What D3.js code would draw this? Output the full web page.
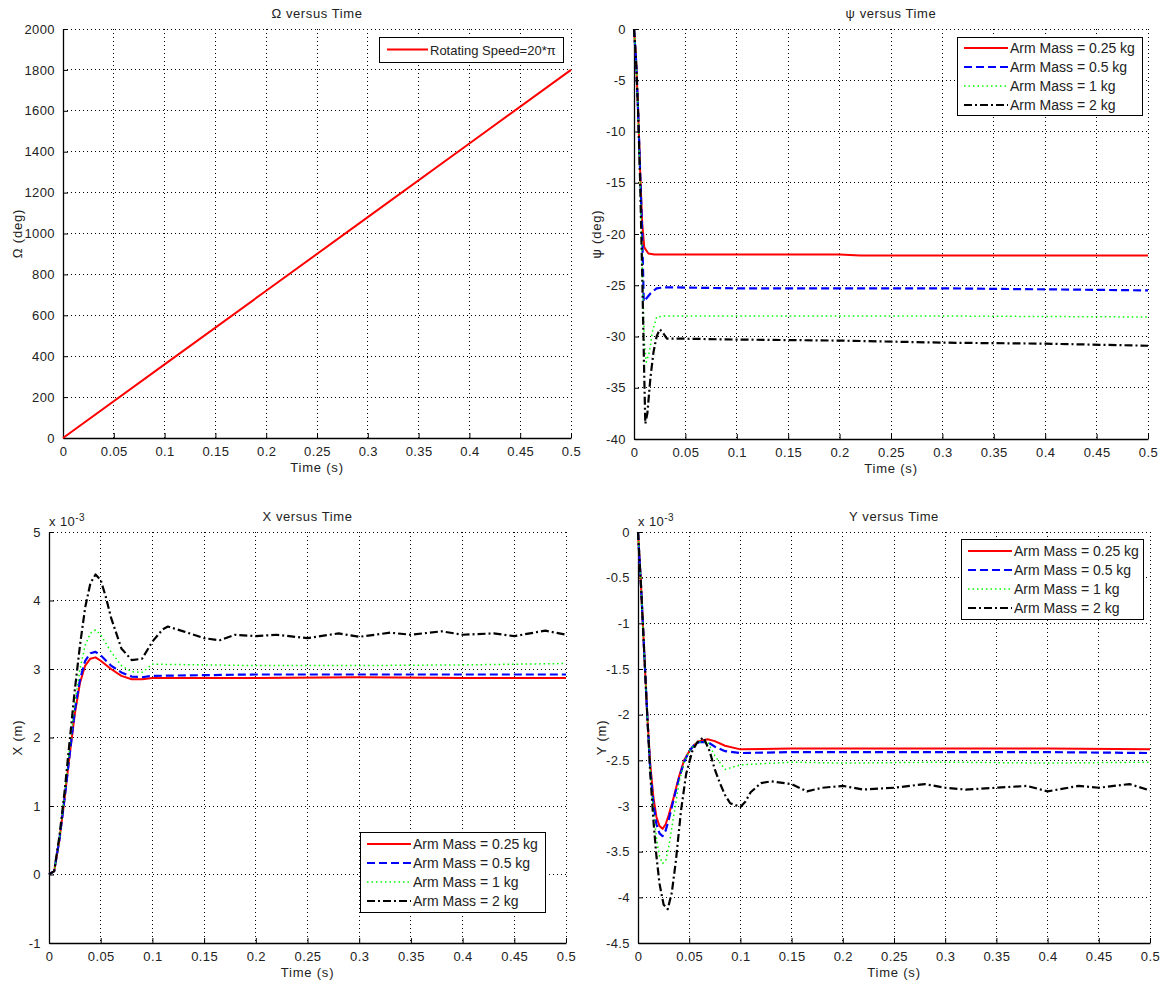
<!DOCTYPE html>
<html>
<head>
<meta charset="utf-8">
<script src="https://cdn.jsdelivr.net/npm/d3@7"></script>
<style>
  body { margin: 0; background: #fff; }
  svg { display: block; font-family: "Liberation Sans", Arial, sans-serif; }
</style>
</head>
<body>
<svg id="chart" width="1163" height="983"></svg>
<script>
// ---------------- DATA ----------------
// Panel 1: Omega versus Time
const omegaTime = [0, 0.1, 0.2, 0.3, 0.4, 0.5];
const omegaValues = [0, 360, 720, 1080, 1440, 1800];
const omegaTicksY = [0, 200, 400, 600, 800, 1000, 1200, 1400, 1600, 1800, 2000];

const timeTicks = [0, 0.05, 0.1, 0.15, 0.2, 0.25, 0.3, 0.35, 0.4, 0.45, 0.5];
const seriesNames = ["Arm Mass = 0.25 kg", "Arm Mass = 0.5 kg", "Arm Mass = 1 kg", "Arm Mass = 2 kg"];

// Panel 2: psi versus Time (deg)
const psiTime025 = [0, 0.002, 0.004, 0.006, 0.008, 0.010, 0.014, 0.02, 0.05, 0.1, 0.2, 0.22, 0.3, 0.4, 0.5];
const psiValues025 = [0, -3, -8, -14, -19, -21.3, -21.9, -22.0, -22.0, -22.0, -22.0, -22.1, -22.1, -22.1, -22.1];
const psiTime05 = [0, 0.002, 0.004, 0.006, 0.008, 0.0095, 0.012, 0.016, 0.022, 0.03, 0.1, 0.2, 0.3, 0.4, 0.5];
const psiValues05 = [0, -3, -8, -14, -20, -26.6, -26.3, -25.8, -25.3, -25.2, -25.3, -25.3, -25.3, -25.4, -25.5];
const psiTime1 = [0, 0.002, 0.004, 0.006, 0.008, 0.010, 0.012, 0.015, 0.018, 0.022, 0.03, 0.1, 0.3, 0.5];
const psiValues1 = [0, -3, -8, -15, -23, -30.5, -32.5, -31.5, -29.5, -28.1, -28.0, -28.0, -28.0, -28.1];
const psiTime2 = [0, 0.002, 0.004, 0.006, 0.008, 0.010, 0.011, 0.013, 0.016, 0.019, 0.022, 0.025, 0.028, 0.032, 0.04, 0.1, 0.2, 0.3, 0.4, 0.5];
const psiValues2 = [0, -3, -8, -15, -24, -34, -38.5, -37.5, -34, -31.5, -30, -29.3, -29.6, -30.2, -30.2, -30.3, -30.4, -30.6, -30.7, -30.9];
const psiTicksY = [-40, -35, -30, -25, -20, -15, -10, -5, 0];

// Panel 3: X versus Time (x 10^-3 m)
const xTime = [0, 0.005, 0.01, 0.015, 0.02, 0.025, 0.03, 0.035, 0.04, 0.045, 0.05, 0.06, 0.07, 0.08, 0.09, 0.1, 0.2, 0.3, 0.4, 0.5];
const xValues025 = [0, 0.05, 0.5, 1.1, 1.75, 2.35, 2.8, 3.05, 3.15, 3.17, 3.12, 3.0, 2.9, 2.85, 2.85, 2.87, 2.87, 2.88, 2.87, 2.87];
const xValues05 = [0, 0.05, 0.5, 1.1, 1.75, 2.4, 2.85, 3.12, 3.23, 3.25, 3.2, 3.05, 2.95, 2.89, 2.88, 2.9, 2.92, 2.92, 2.92, 2.92];
const xValues1 = [0, 0.05, 0.5, 1.15, 1.85, 2.5, 3.0, 3.35, 3.52, 3.57, 3.5, 3.25, 3.05, 2.96, 2.95, 3.07, 3.05, 3.05, 3.06, 3.08];
const xTime2 = [0, 0.005, 0.01, 0.015, 0.02, 0.025, 0.03, 0.035, 0.04, 0.045, 0.05, 0.055, 0.06, 0.07, 0.08, 0.09, 0.1, 0.11, 0.115, 0.13, 0.15, 0.165, 0.18, 0.2, 0.22, 0.25, 0.28, 0.3, 0.33, 0.35, 0.38, 0.4, 0.43, 0.45, 0.48, 0.5];
const xValues2 = [0, 0.05, 0.55, 1.2, 1.95, 2.7, 3.35, 3.9, 4.25, 4.38, 4.3, 4.05, 3.75, 3.3, 3.13, 3.15, 3.4, 3.58, 3.62, 3.55, 3.45, 3.42, 3.5, 3.48, 3.5, 3.45, 3.52, 3.47, 3.53, 3.5, 3.55, 3.5, 3.52, 3.48, 3.56, 3.5];
const xTicksY = [-1, 0, 1, 2, 3, 4, 5];

// Panel 4: Y versus Time (x 10^-3 m)
const yTime = [0, 0.003, 0.006, 0.009, 0.012, 0.015, 0.018, 0.021, 0.024, 0.027, 0.03, 0.035, 0.04, 0.045, 0.05, 0.055, 0.06, 0.068, 0.075, 0.085, 0.1, 0.15, 0.2, 0.3, 0.4, 0.5];
const yValues025 = [0, -0.6, -1.3, -2.0, -2.55, -2.9, -3.12, -3.22, -3.25, -3.2, -3.1, -2.9, -2.68, -2.5, -2.4, -2.33, -2.29, -2.27, -2.29, -2.34, -2.38, -2.37, -2.37, -2.37, -2.37, -2.38];
const yValues05 = [0, -0.6, -1.3, -2.0, -2.6, -2.97, -3.2, -3.3, -3.33, -3.27, -3.15, -2.92, -2.7, -2.52, -2.4, -2.33, -2.3, -2.3, -2.35, -2.4, -2.42, -2.41, -2.41, -2.41, -2.41, -2.42];
const yValues1 = [0, -0.6, -1.3, -2.0, -2.6, -3.05, -3.35, -3.55, -3.63, -3.6, -3.45, -3.1, -2.75, -2.52, -2.4, -2.33, -2.3, -2.3, -2.45, -2.6, -2.55, -2.52, -2.53, -2.52, -2.53, -2.52];
const yTime2 = [0, 0.003, 0.006, 0.009, 0.012, 0.015, 0.018, 0.021, 0.025, 0.029, 0.033, 0.037, 0.042, 0.047, 0.053, 0.058, 0.064, 0.07, 0.075, 0.08, 0.085, 0.09, 0.1, 0.105, 0.11, 0.12, 0.13, 0.15, 0.165, 0.18, 0.2, 0.22, 0.25, 0.28, 0.3, 0.32, 0.35, 0.38, 0.4, 0.43, 0.45, 0.48, 0.5];
const yValues2 = [0, -0.6, -1.3, -2.0, -2.65, -3.15, -3.55, -3.85, -4.08, -4.13, -3.95, -3.6, -3.05, -2.65, -2.4, -2.3, -2.25, -2.4, -2.6, -2.75, -2.88, -2.97, -3.01, -2.95, -2.85, -2.75, -2.73, -2.76, -2.84, -2.8, -2.78, -2.82, -2.8, -2.76, -2.8, -2.82, -2.8, -2.78, -2.84, -2.78, -2.8, -2.76, -2.83];
const yTicksY = [-4.5, -4, -3.5, -3, -2.5, -2, -1.5, -1, -0.5, 0];

// ---------------- STYLES ----------------
const styles = [
  { color: "#ff0000", width: 2, dash: null },
  { color: "#0000ff", width: 2.2, dash: "8,4" },
  { color: "#00ff00", width: 1.5, dash: "1.5,3" },
  { color: "#000000", width: 2.2, dash: "8,3,2,3" }
];

const FONT = "'Liberation Sans', Arial, sans-serif";
const svg = d3.select("#chart");

function panel(cfg) {
  const x = d3.scaleLinear().domain([0, 0.5]).range([cfg.left, cfg.right]);
  const y = d3.scaleLinear().domain(cfg.yDomain).range([cfg.bottom, cfg.top]);
  const g = svg.append("g");

  // grid
  g.append("g").selectAll("line").data(timeTicks.filter(d => d !== 0)).join("line")
    .attr("x1", d => x(d)).attr("x2", d => x(d))
    .attr("y1", cfg.top).attr("y2", cfg.bottom)
    .attr("stroke", "#000").attr("stroke-width", 1).attr("stroke-dasharray", "1,3")
    .attr("shape-rendering", "crispEdges");
  g.append("g").selectAll("line").data(cfg.yTicks.filter(d => d !== cfg.yDomain[0])).join("line")
    .attr("y1", d => y(d)).attr("y2", d => y(d))
    .attr("x1", cfg.left).attr("x2", cfg.right)
    .attr("stroke", "#000").attr("stroke-width", 1).attr("stroke-dasharray", "1,3")
    .attr("shape-rendering", "crispEdges");

  // axes (ticks inward)
  const xAxis = d3.axisBottom(x).tickValues(timeTicks).tickFormat(d => String(d)).tickSizeInner(-5).tickSizeOuter(0).tickPadding(8);
  const gx = g.append("g").attr("transform", `translate(0,${cfg.bottom})`).call(xAxis);
  const yAxis = d3.axisLeft(y).tickValues(cfg.yTicks).tickFormat(d => String(d)).tickSizeInner(-5).tickSizeOuter(0).tickPadding(8);
  const gy = g.append("g").attr("transform", `translate(${cfg.left},0)`).call(yAxis);
  [gx, gy].forEach(a => {
    a.select(".domain").attr("stroke", "#000").attr("stroke-width", 1.3);
    a.selectAll(".tick line").attr("stroke", "#000");
    a.selectAll(".tick text").attr("font-size", 13).attr("fill", "#222")
      .attr("letter-spacing", 0.4).attr("font-family", FONT);
  });
  gx.selectAll(".tick text").attr("dy", "0.8em");

  // lines
  const line = d3.line().x(d => x(d[0])).y(d => y(d[1]));
  cfg.series.forEach((s, i) => {
    const st = cfg.styles[i];
    g.append("path")
      .datum(s.t.map((t, k) => [t, s.v[k]]))
      .attr("d", line)
      .attr("fill", "none")
      .attr("stroke", st.color)
      .attr("stroke-width", st.width)
      .attr("stroke-dasharray", st.dash)
      .attr("stroke-linejoin", "round");
  });

  // title & labels
  g.append("text").attr("x", (cfg.left + cfg.right) / 2).attr("y", cfg.top - 11)
    .attr("text-anchor", "middle").attr("font-size", 13).attr("letter-spacing", 0.6)
    .attr("fill", "#222").text(cfg.title);
  g.append("text").attr("x", (cfg.left + cfg.right) / 2).attr("y", cfg.bottom + 34)
    .attr("text-anchor", "middle").attr("font-size", 13).attr("letter-spacing", 0.8)
    .attr("fill", "#222").text("Time (s)");
  g.append("text").attr("transform", `translate(${cfg.ylabelX},${(cfg.top + cfg.bottom) / 2}) rotate(-90)`)
    .attr("text-anchor", "middle").attr("font-size", 13).attr("letter-spacing", 0.8)
    .attr("fill", "#222").text(cfg.ylabel);

  if (cfg.exponent) {
    const t = g.append("text").attr("x", cfg.left).attr("y", cfg.top - 6)
      .attr("font-size", 13).attr("fill", "#222").attr("letter-spacing", 0.4);
    t.append("tspan").text("x 10");
    t.append("tspan").attr("font-size", 10).attr("dy", -5).text("-3");
  }

  // legend
  const L = cfg.legend;
  const lg = g.append("g");
  lg.append("rect").attr("x", L.x).attr("y", L.y).attr("width", L.w).attr("height", L.h)
    .attr("fill", "#fff").attr("stroke", "#000").attr("stroke-width", 1)
    .attr("shape-rendering", "crispEdges");
  L.names.forEach((n, i) => {
    const st = cfg.styles[i];
    const cy = L.y + L.first + i * L.step;
    lg.append("line").attr("x1", L.x + L.lx1).attr("x2", L.x + L.lx2).attr("y1", cy).attr("y2", cy)
      .attr("stroke", st.color).attr("stroke-width", st.width).attr("stroke-dasharray", st.dash);
    lg.append("text").attr("x", L.x + L.lx2 + 2).attr("y", cy + 5)
      .attr("font-size", L.font || 14).attr("fill", "#222").text(n);
  });
}

// Panel 1
panel({
  left: 63, right: 571, top: 29, bottom: 438,
  yDomain: [0, 2000], yTicks: omegaTicksY,
  title: "Ω versus Time", ylabel: "Ω (deg)", ylabelX: 22,
  series: [{ t: omegaTime, v: omegaValues }],
  styles: [styles[0]],
  legend: { x: 379, y: 37, w: 184, h: 25, first: 12.5, step: 19, lx1: 8, lx2: 49, font: 13, names: ["Rotating Speed=20*π"] }
});

// Panel 2
panel({
  left: 634, right: 1148, top: 29, bottom: 439,
  yDomain: [-40, 0], yTicks: psiTicksY,
  title: "ψ versus Time", ylabel: "ψ (deg)", ylabelX: 601,
  series: [
    { t: psiTime025, v: psiValues025 },
    { t: psiTime05, v: psiValues05 },
    { t: psiTime1, v: psiValues1 },
    { t: psiTime2, v: psiValues2 }
  ],
  styles: styles,
  legend: { x: 957, y: 37, w: 185, h: 78, first: 11, step: 19, lx1: 7, lx2: 51, names: seriesNames }
});

// Panel 3
panel({
  left: 49, right: 566, top: 532, bottom: 943,
  yDomain: [-1, 5], yTicks: xTicksY,
  title: "X versus Time", ylabel: "X (m)", ylabelX: 22, exponent: true,
  series: [
    { t: xTime, v: xValues025 },
    { t: xTime, v: xValues05 },
    { t: xTime, v: xValues1 },
    { t: xTime2, v: xValues2 }
  ],
  styles: styles,
  legend: { x: 360, y: 832, w: 185, h: 80, first: 12, step: 19, lx1: 7, lx2: 51, names: seriesNames }
});

// Panel 4
panel({
  left: 638, right: 1150, top: 532, bottom: 943,
  yDomain: [-4.5, 0], yTicks: yTicksY,
  title: "Y versus Time", ylabel: "Y (m)", ylabelX: 606, exponent: true,
  series: [
    { t: yTime, v: yValues025 },
    { t: yTime, v: yValues05 },
    { t: yTime, v: yValues1 },
    { t: yTime2, v: yValues2 }
  ],
  styles: styles,
  legend: { x: 961, y: 539, w: 182, h: 80, first: 12, step: 19, lx1: 7, lx2: 51, names: seriesNames }
});
</script>
</body>
</html>
